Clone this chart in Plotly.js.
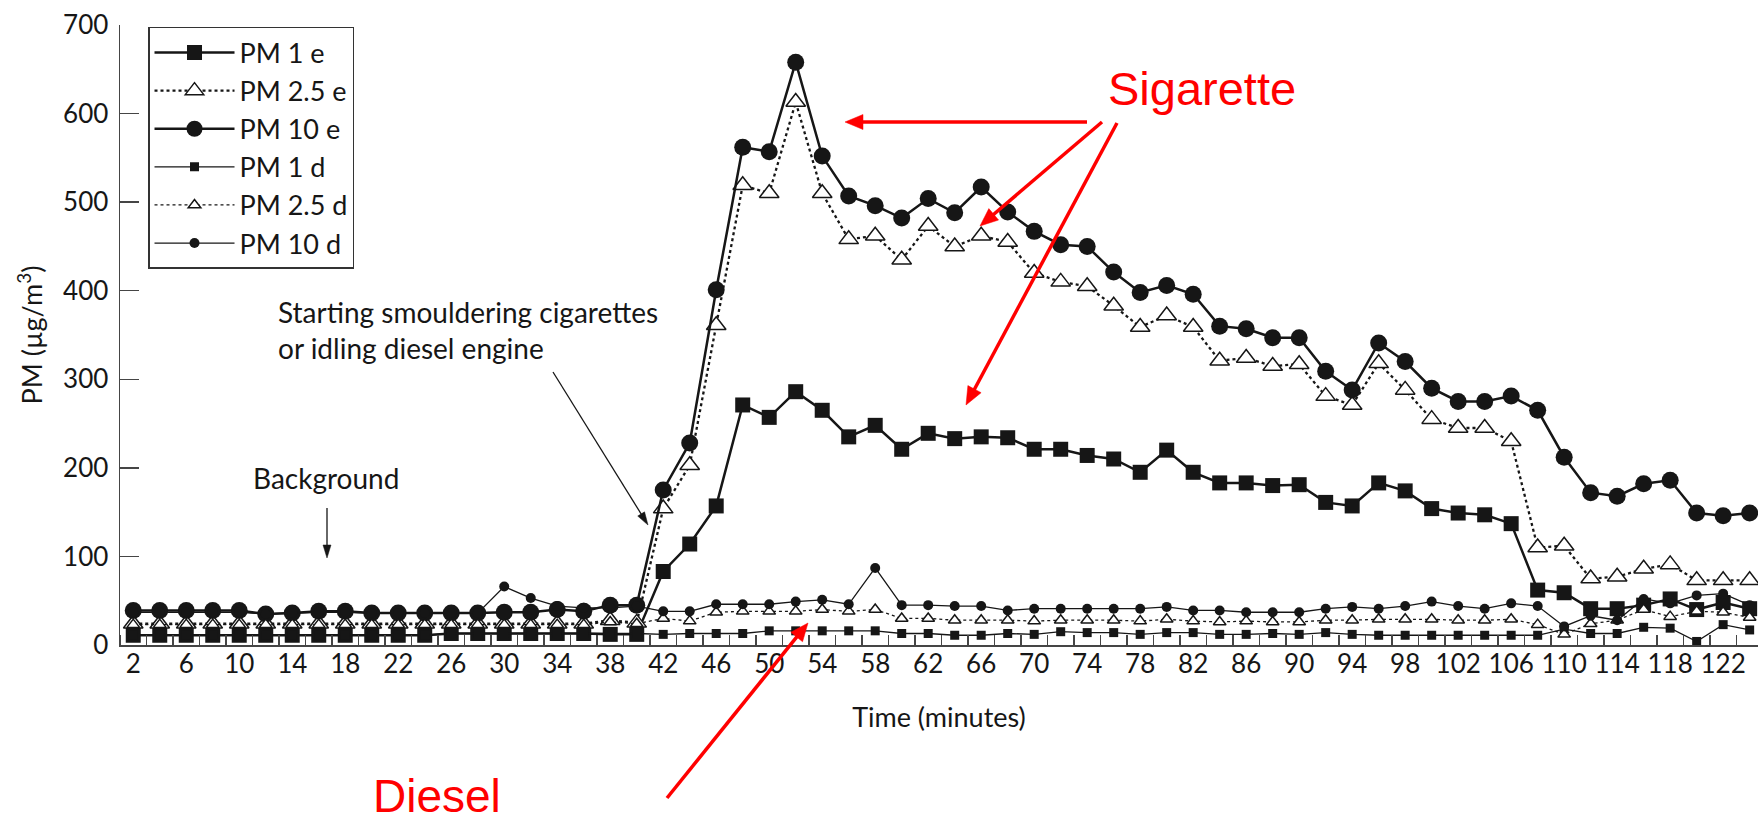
<!DOCTYPE html>
<html>
<head>
<meta charset="utf-8">
<script src="https://cdn.plot.ly/plotly-3.0.1.min.js"></script>
<style>
html,body{margin:0;padding:0;background:#fff;}
#chart{width:1758px;height:829px;}
</style>
</head>
<body>
<div id="chart"></div>
<script>
// ---------------- data ----------------
const minutes = [2,4,6,8,10,12,14,16,18,20,22,24,26,28,30,32,34,36,38,40,
                 42,44,46,48,50,52,54,56,58,60,62,64,66,68,70,72,74,76,78,80,
                 82,84,86,88,90,92,94,96,98,100,102,104,106,108,110,112,114,116,118,120,
                 122,124];

const pm1e  = [11,11,11,11,11,11,11,11,11,11,11,11,13,13,13,13,13,13,12,12,
               83,114,157,271,257,286,265,235,248,221,239,233,235,234,221,221,214,210,195,220,
               195,183,183,180,181,161,157,183,174,154,149,147,137,62,59,41,41,45,52,40,
               48,41];

const pm25e = [24,24,24,24,24,24,24,24,24,24,24,24,24,24,24,24,24,24,28,25,
               154,203,361,519,510,613,510,458,462,435,473,450,462,455,420,410,405,383,359,372,
               359,321,324,315,317,281,271,318,288,255,245,245,230,110,112,75,77,86,91,73,
               73,73];

const pm10e = [39,39,39,39,39,35,36,38,38,36,36,36,36,36,37,37,40,38,45,45,
               175,228,401,562,557,658,552,507,496,482,504,488,517,489,467,452,450,421,398,406,
               396,360,357,347,347,309,288,341,320,290,275,275,281,265,212,172,168,182,186,149,
               146,149];

const pm1d  = [11,11,11,11,11,11,11,11,11,11,11,11,13,13,13,13,13,13,13,13,
               12,13,13,13,16,16,16,16,16,13,13,11,11,13,12,15,14,14,12,14,
               14,12,12,13,12,14,12,11,11,11,11,11,11,11,18,13,13,20,19,4,
               23,17];

const pm25d = [23,23,23,23,23,23,23,23,23,23,23,23,23,23,23,23,23,23,26,24,
               30,27,37,38,38,38,40,38,40,30,30,28,28,28,27,28,28,28,27,29,
               27,26,27,26,26,28,28,29,29,29,28,28,29,23,12,24,28,40,32,38,
               37,31];

const pm10d = [37,37,37,37,37,35,36,37,37,36,36,36,36,36,66,53,44,42,42,44,
               38,38,46,46,46,49,51,46,87,45,45,44,44,39,41,41,41,41,41,43,
               39,39,37,37,37,41,43,41,44,49,44,41,47,44,21,33,28,52,47,56,
               58,45];

const tickPositions = [2,6,10,14,18,22,26,30,34,38,42,46,50,54,58,62,66,70,74,78,82,86,90,94,98,102,106,110,114,118,122];
const tickLabels    = ['2','6','10','14','18','22','26','30','34','38','42','46','50','54','58','62','66','70','74','78','82','86','90','94','98','102','106','110','114','118','122'];
const boundaryTicks = [1,3,5,7,9,11,13,15,17,19,21,23,25,27,29,31,33,35,37,39,41,43,45,47,49,51,53,55,57,59,61,63,
                       65,67,69,71,73,75,77,79,81,83,85,87,89,91,93,95,97,99,101,103,105,107,109,111,113,115,117,119,121,123,125];
const yTicks = [0,100,200,300,400,500,600,700];

// ---------------- style ----------------
const W = 1758, H = 829;
const M = {l:120, r:0, t:25, b:184};
const INK = '#161616';
const AX = '#454545';
const FONT = 'Lato, "Noto Sans", "DejaVu Sans", sans-serif';
const RED = '#ff0000';

function series(name, y, lineW, dash, symbol, size, filled){
  return {
    type:'scatter', mode:'lines+markers', name:name,
    x:minutes, y:y,
    line:{color:INK, width:lineW, dash:dash},
    marker:{symbol:symbol, size:size,
            color: filled ? INK : '#ffffff',
            line:{color:INK, width: filled ? 0 : 1.5}},
    hoverinfo:'skip'
  };
}

const traces = [
  series('PM 1 e',   pm1e,  2.5, 'solid', 'square',      15, true),
  series('PM 2.5 e', pm25e, 2.3, 'dot',   'triangle-up', 17, false),
  series('PM 10 e',  pm10e, 2.5, 'solid', 'circle',      17, true),
  series('PM 1 d',   pm1d,  1.3, 'solid', 'square',       9, true),
  series('PM 2.5 d', pm25d, 1.3, 'dot',   'triangle-up', 11, false),
  series('PM 10 d',  pm10d, 1.3, 'solid', 'circle',      10, true)
];

// ---- annotation arrows drawn as shapes (pixel positions -> paper coords) ----
const PW = W - M.l - M.r, PH = H - M.t - M.b;
const px = v => (v - M.l) / PW;
const py = v => (H - M.b - v) / PH;
function arrowShapes(x0, y0, x1, y1, color, width, headLen, headW){
  const dx = x1 - x0, dy = y1 - y0, L = Math.hypot(dx, dy);
  const ux = dx / L, uy = dy / L, nx = -uy, ny = ux;
  const bx = x1 - ux * headLen, by = y1 - uy * headLen;
  const lx = x1 - ux * headLen * 0.6, ly = y1 - uy * headLen * 0.6;
  const p1x = bx + nx * headW / 2, p1y = by + ny * headW / 2;
  const p2x = bx - nx * headW / 2, p2y = by - ny * headW / 2;
  return [
    {type:'line', xref:'paper', yref:'paper', x0:px(x0), y0:py(y0), x1:px(lx), y1:py(ly),
     line:{color:color, width:width}},
    {type:'path', xref:'paper', yref:'paper',
     path:`M${px(x1)},${py(y1)} L${px(p1x)},${py(p1y)} L${px(p2x)},${py(p2y)} Z`,
     fillcolor:color, line:{color:color, width:0.5}}
  ];
}

const shapes = [].concat(
  arrowShapes(1087, 122, 845, 122, RED, 3.5, 18, 15),
  arrowShapes(1102, 122, 980, 226, RED, 3.5, 18, 15),
  arrowShapes(1117, 123, 966, 405, RED, 3.5, 18, 15),
  arrowShapes(667, 798, 808, 623, RED, 3.5, 18, 15),
  arrowShapes(553, 372, 648, 525, INK, 1.3, 13, 8),
  arrowShapes(327, 508, 327, 558, INK, 1.3, 13, 8)
);

const annotations = [
  {xref:'paper', yref:'paper', x:0.6606, y:0.897, text:'Sigarette', showarrow:false,
   xanchor:'center', yanchor:'middle',
   font:{family:'"Liberation Sans", Arial, sans-serif', size:47, color:RED}},
  {xref:'paper', yref:'paper', x:0.1935, y:-0.244, text:'Diesel', showarrow:false,
   xanchor:'center', yanchor:'middle',
   font:{family:'"Liberation Sans", Arial, sans-serif', size:46, color:RED}},
  {xref:'paper', yref:'paper', x:0.0952, y:0.568, xanchor:'left', yanchor:'top', align:'left',
   text:'Starting smouldering cigarettes<br>or idling diesel engine', showarrow:false,
   font:{family:FONT, size:28, color:INK}},
  {xref:'paper', yref:'paper', x:0.1258, y:0.27, xanchor:'center', yanchor:'middle',
   text:'Background', showarrow:false, font:{family:FONT, size:28, color:INK}}
];

const layout = {
  width:W, height:H,
  margin:{l:M.l, r:M.r, t:M.t, b:M.b, pad:0},
  paper_bgcolor:'#ffffff', plot_bgcolor:'#ffffff',
  font:{family:FONT, color:INK},
  showlegend:true,
  legend:{x:0.0171, y:0.9968, xanchor:'left', yanchor:'top',
          bgcolor:'#ffffff', bordercolor:'#333333', borderwidth:1.5,
          font:{family:FONT, size:27, color:INK}, itemwidth:80, tracegroupgap:0},
  xaxis:{range:[1,124.63], tickmode:'array', tickvals:tickPositions, ticktext:tickLabels,
         ticks:'', showline:true, linecolor:AX, linewidth:1.5, showgrid:false, zeroline:false,
         tickfont:{family:FONT, size:26, color:INK}, ticklabelstandoff:-5,
         minor:{tickmode:'array', tickvals:boundaryTicks, ticks:'inside', ticklen:10,
                tickcolor:AX, tickwidth:1.3, showgrid:false},
         title:{text:'Time (minutes)', font:{family:FONT, size:27, color:INK}, standoff:30}},
  yaxis:{range:[0,700], tickmode:'array', tickvals:yTicks, ticks:'inside', ticklen:19,
         tickwidth:1.5, tickcolor:AX, showline:true, linecolor:AX, linewidth:1.5,
         showgrid:false, zeroline:false, tickfont:{family:FONT, size:26, color:INK},
         ticklabelstandoff:5,
         title:{text:'PM (µg/m<sup>3</sup>)', font:{family:FONT, size:27, color:INK}, standoff:12}},
  annotations:annotations,
  shapes:shapes
};

Plotly.newPlot('chart', traces, layout, {staticPlot:true, displayModeBar:false});
</script>
</body>
</html>
